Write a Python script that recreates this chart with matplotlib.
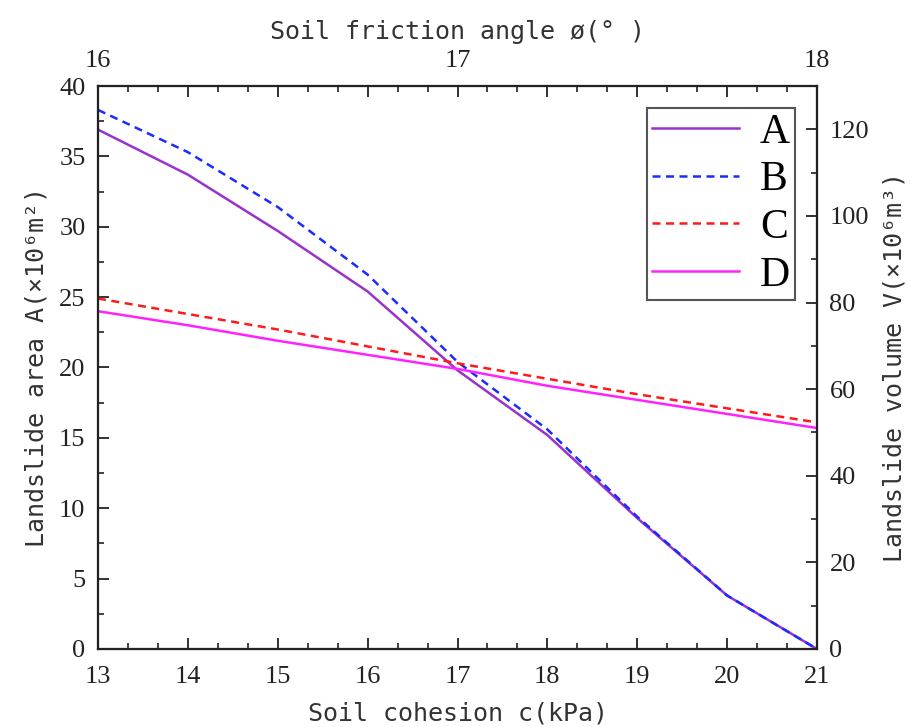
import numpy as np
import matplotlib.pyplot as plt
from matplotlib.ticker import MultipleLocator, FuncFormatter

# values (left axis units)
cohesion = [13, 14, 15, 16, 17, 18, 19, 20, 21]
area_A = [36.9, 33.7, 29.7, 25.4, 19.8, 15.2, 9.3, 3.8, 0.0]
area_B = [38.3, 35.3, 31.4, 26.6, 20.4, 15.6, 9.4, 3.8, 0.0]
area_C = [24.9, 23.8, 22.7, 21.5, 20.3, 19.2, 18.1, 17.1, 16.1]
area_D = [24.0, 23.0, 21.9, 20.9, 19.9, 18.7, 17.7, 16.7, 15.7]
labels = ["A", "B", "C", "D"]

tick_font = "Liberation Serif"
label_font = "DejaVu Sans Mono"

fig = plt.figure(figsize=(9.12, 7.27), dpi=100)
ax = fig.add_axes([0.1075, 0.1073, 0.7883, 0.7744])

ax.plot(cohesion, area_A, color="#9932CC", lw=1.8, label=labels[0])
ax.plot(cohesion, area_B, color="#1a2cff", lw=1.8, dashes=(3.2, 2.2), label=labels[1])
ax.plot(cohesion, area_C, color="#ff1a1a", lw=1.8, dashes=(3.2, 2.2), label=labels[2])
ax.plot(cohesion, area_D, color="#ff22ff", lw=1.8, label=labels[3])

ax.set_xlim(13, 21)
ax.set_ylim(0, 40)
ax.xaxis.set_major_locator(MultipleLocator(1))
ax.xaxis.set_minor_locator(MultipleLocator(1 / 3))
ax.yaxis.set_major_locator(MultipleLocator(5))
ax.yaxis.set_minor_locator(MultipleLocator(2.5))

# top axis: friction angle
axt = ax.twiny()
axt.set_xlim(16, 18)
axt.xaxis.set_major_locator(MultipleLocator(0.25))
axt.xaxis.set_minor_locator(MultipleLocator(1 / 12))
axt.xaxis.set_major_formatter(FuncFormatter(lambda v, p: "%d" % round(v) if abs(v - round(v)) < 1e-6 else ""))

# right axis: volume
axr = ax.twinx()
axr.set_ylim(0, 130)
axr.yaxis.set_major_locator(MultipleLocator(20))
axr.yaxis.set_minor_locator(MultipleLocator(10))

for a in (ax, axt, axr):
    for s in a.spines.values():
        s.set_linewidth(1.5)
        s.set_color("#222222")
    a.tick_params(which="major", direction="in", length=8, width=1.3, colors="#222222",
                  labelsize=19, labelcolor="#222222", pad=9)
    a.tick_params(which="minor", direction="in", length=4.5, width=1.2, colors="#222222")
    for t in a.get_xticklabels() + a.get_yticklabels():
        t.set_fontfamily(tick_font)

ax.tick_params(top=False, right=False)
ax.tick_params(which="minor", top=False, right=False)
ax.tick_params(axis="x", pad=12)
axt.tick_params(axis="x", pad=10)

ax.set_xlabel("Soil cohesion c(kPa)", fontfamily=label_font, fontsize=18, color="#333333", labelpad=10)
ax.set_ylabel("Landslide area A(×10⁶m²)", fontfamily=label_font, fontsize=18, color="#333333", labelpad=8)
axt.set_xlabel("Soil friction angle ø(° )", fontfamily=label_font, fontsize=18, color="#333333", labelpad=8)
axr.set_ylabel("Landslide volume V(×10⁶m³)", fontfamily=label_font, fontsize=18, color="#333333", labelpad=10)

leg = ax.legend(loc="upper right", bbox_to_anchor=(0.9694, 0.9609), borderaxespad=0,
                prop={"family": tick_font, "size": 30}, handlelength=2.1, labelspacing=0.22,
                fancybox=False, framealpha=1, edgecolor="#555555", borderpad=0.12,
                handletextpad=0.5)
leg.get_frame().set_linewidth(1.5)
leg.set_zorder(5)

fig.savefig("out.png", dpi=100)
